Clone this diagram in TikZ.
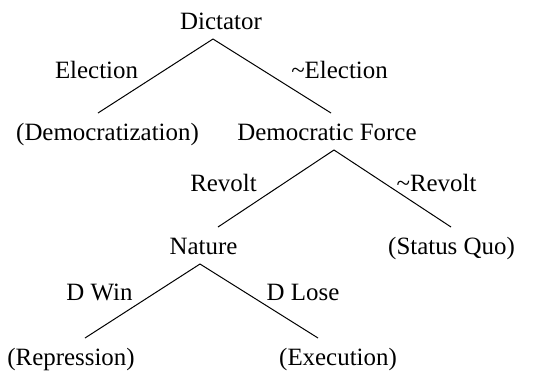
\documentclass[tikz,border=0pt]{standalone}
\usepackage{fontspec}
\setmainfont{Liberation Serif}
\usepackage{tikz}
\tikzstyle{mover}=[inner sep=0, outer xsep=0, outer ysep=10bp, anchor=base, text height=17bp, text depth=0pt]
\tikzstyle{choice}=[inner sep=0, anchor=base]
\tikzstyle{gametree}=[x=1bp, y=-1bp, line width=1bp,
                      % Times-like text as in the figure.
                      every node/.style={font=\fontsize{25}{29}\selectfont}]

\begin{document}
\begin{tikzpicture}[gametree]
        \useasboundingbox (0, 0) rectangle (543, 379);
        \node[mover] (D1) at (221, 29) {Dictator};
        \node[mover] (O1) at (107.5, 140) {(Democratization)};
        \node[mover] (D2) at (327, 140) {Democratic Force};
        \node[mover] (N1) at (203.5, 254) {Nature};
        \node[mover] (O2) at (451.5, 254) {(Status Quo)};
        \node[mover] (O3) at (71, 365) {(Repression)};
        \node[mover] (O4) at (338, 365) {(Execution)};
        \draw ([xshift=-8bp]D1.south) -- ([xshift=-9.5bp]O1.north);
        \draw ([xshift=-8bp]D1.south) -- ([xshift=4bp]D2.north);
        \draw ([xshift=7bp]D2.south) -- ([xshift=14.5bp]N1.north);
        \draw ([xshift=7bp]D2.south) -- ([xshift=-0.5bp]O2.north);
        \draw ([xshift=-3.5bp]N1.south) -- ([xshift=14bp]O3.north);
        \draw ([xshift=-3.5bp]N1.south) -- ([xshift=-20bp]O4.north);
        \node[choice] (e1) at (96.5, 78) {Election};
        \node[choice] (e2) at (339.5, 78) {\textasciitilde Election};
        \node[choice] (r1) at (223.5, 191) {Revolt};
        \node[choice] (r2) at (436.5, 191) {\textasciitilde Revolt};
        \node[choice] (w1) at (99.5, 300) {D Win};
        \node[choice] (w2) at (303, 300) {D Lose};
    \end{tikzpicture}
\end{document}
